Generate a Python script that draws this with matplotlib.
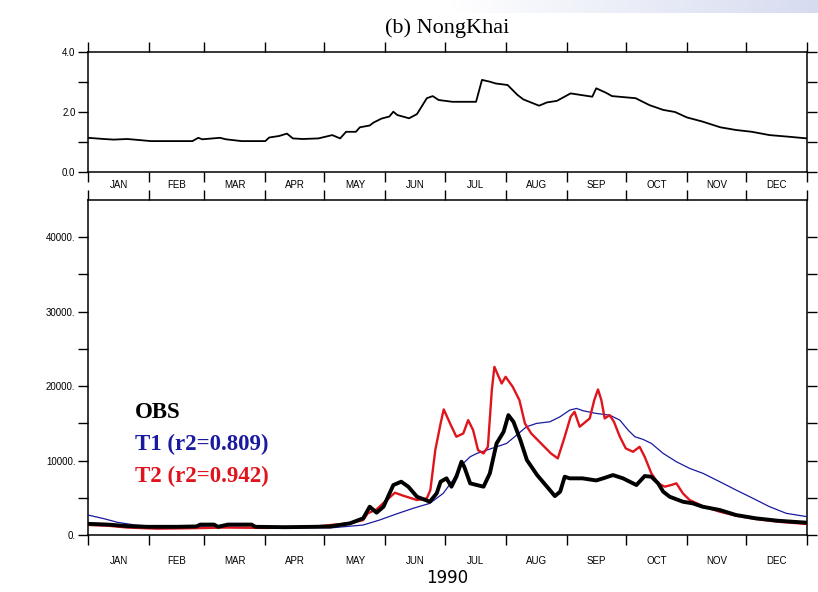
"""NongKhai 1990: уровень воды (верх) и расход OBS / T1 / T2 (низ)."""

import numpy as np
import matplotlib
matplotlib.use("Agg")
import matplotlib.pyplot as plt

# границы месяцев (день года) и подписи
month_edges = [0, 31, 59, 90, 120, 151, 181, 212, 243, 273, 304, 334, 365]
month_names = ["JAN", "FEB", "MAR", "APR", "MAY", "JUN",
               "JUL", "AUG", "SEP", "OCT", "NOV", "DEC"]

# верхняя панель
top_day = [0, 8, 13, 20, 32, 53, 56, 58, 67, 70, 78, 90, 92, 97, 101, 104, 109,
           117, 124, 128, 131, 136, 138, 143, 145, 149, 153, 155, 157, 163, 167,
           172, 175, 178, 185, 197, 200, 204, 207, 213, 218, 221, 229, 233, 238,
           245, 256, 258, 263, 266, 278, 285, 292, 298, 304, 312, 321, 329, 337,
           346, 355, 365]
top_val = [1.14, 1.10, 1.08, 1.10, 1.03, 1.03, 1.14, 1.09, 1.14, 1.09, 1.03, 1.03,
           1.15, 1.20, 1.28, 1.12, 1.10, 1.12, 1.23, 1.12, 1.34, 1.34, 1.49, 1.55,
           1.65, 1.78, 1.85, 2.01, 1.90, 1.79, 1.93, 2.46, 2.53, 2.40, 2.34, 2.34,
           3.07, 3.01, 2.95, 2.90, 2.57, 2.42, 2.21, 2.32, 2.37, 2.62, 2.51, 2.79,
           2.64, 2.53, 2.46, 2.23, 2.07, 2.00, 1.82, 1.68, 1.49, 1.40, 1.34, 1.23,
           1.18, 1.12]

# нижняя панель
obs_day = [0, 10, 20, 30, 45, 55, 57, 64, 66, 71, 83, 85, 100, 115, 123, 133,
           139.7, 143, 146.5, 150, 155, 159, 162.6, 167, 173.5, 177, 179, 182,
           184.5, 187, 189.6, 191, 194, 197.4, 200.8, 204, 207.4, 211, 213.4, 216,
           219.5, 222.8, 228, 233, 237, 239.7, 242, 244.5, 251, 258, 261.5, 266.5,
           271.6, 278.4, 282.6, 286, 289.4, 292, 295.3, 302, 307, 312, 320.7, 329,
           339, 350, 365]
obs_val = [1500, 1400, 1200, 1100, 1100, 1150, 1400, 1400, 1100, 1400, 1400, 1100,
           1050, 1100, 1150, 1570, 2240, 3800, 3000, 3800, 6710, 7160, 6490, 5140,
           4470, 5590, 7160, 7610, 6490, 7830, 9840, 9170, 6940, 6710, 6490, 8280,
           12300, 13870, 16100, 15200, 12750, 10070, 8050, 6490, 5230, 5820, 7830,
           7610, 7610, 7330, 7610, 8050, 7610, 6710, 7920, 7830, 6940, 5820, 5140,
           4470, 4250, 3800, 3360, 2680, 2240, 1920, 1650]

t1_day = [0, 8, 15, 25, 40, 60, 90, 110, 123, 139.7, 148, 156.5, 165, 173.5,
          180.3, 185.3, 189.6, 194, 197.4, 202.4, 207.4, 212.5, 217.6, 222.6,
          227.7, 234.5, 239.6, 244.6, 248, 251.3, 258, 264.8, 270, 274.2, 277.6,
          281.8, 286, 292, 298.7, 305.4, 312.2, 320.7, 329, 337.6, 346, 354.5, 365]
t1_val = [2680, 2200, 1700, 1300, 1150, 1100, 1000, 1000, 950, 1340, 2010, 2820,
          3580, 4250, 5590, 7380, 9390, 10510, 10960, 11400, 11850, 12300, 13420,
          14540, 14990, 15210, 15880, 16780, 17000, 16690, 16330, 16100, 15430,
          14090, 13200, 12840, 12300, 10960, 9840, 8950, 8280, 7160, 6040, 4920,
          3800, 2910, 2460]

t2_day = [0, 10, 20, 35, 50, 70, 90, 105, 115, 123, 133, 139.7, 142, 146.5,
          150.7, 155.8, 160, 167, 172, 173.8, 176.3, 179, 180.6, 183.8, 187,
          190.5, 193, 195.5, 198, 200.8, 203, 205, 206.3, 208.5, 210, 212, 215.6,
          219, 221.8, 225, 230, 235, 238.5, 242, 245, 247, 249.6, 254.7, 257,
          258.9, 260.6, 262.3, 264.8, 267, 270, 273, 276.7, 280, 282.6, 286,
          289.4, 292.8, 296, 298.7, 302, 305.4, 312, 320.7, 329, 339, 350, 365]
t2_val = [1350, 1250, 1000, 850, 900, 1000, 950, 1000, 1100, 1340, 1570, 2010,
          2910, 3440, 4470, 5680, 5280, 4700, 4920, 6040, 11400, 14990, 16870,
          14990, 13200, 13640, 15430, 14090, 11400, 10960, 11850, 19460, 22590,
          21250, 20350, 21250, 19910, 18120, 14990, 13640, 12300, 10960, 10290,
          13200, 15880, 16550, 14540, 15660, 18120, 19550, 18120, 15660, 16100,
          15210, 13200, 11630, 11180, 11850, 10510, 8280, 6940, 6490, 6710, 6940,
          5590, 4700, 3890, 3130, 2600, 2150, 1790, 1480]

labels = ["OBS", "T1 (r2=0.809)", "T2 (r2=0.942)"]
colors = ["black", "#1a1aa0", "#e0141c"]

W, H = 818, 592
fig = plt.figure(figsize=(W / 100, H / 100), dpi=100)

# светлая полоса фона сверху (как у слайда): белый -> бледно-голубой
band = fig.add_axes([0, 1 - 13 / H, 1, 13 / H], zorder=-5)
t = np.clip((np.linspace(0, 1, 256) - 0.55) / 0.45, 0, 1)[None, :, None]
rgb = (1 - t) * np.array([1.0, 1.0, 1.0]) + t * np.array([0.84, 0.86, 0.94])
band.imshow(np.repeat(rgb, 2, axis=0), aspect="auto", extent=[0, 1, 0, 1])
band.axis("off")

mid = [(a + b) / 2 for a, b in zip(month_edges[:-1], month_edges[1:])]
tick_font = dict(family="Liberation Sans", size=7)


def style_axis(ax, label_pad):
    ax.set_xlim(0, 365)
    ax.set_xticks(month_edges)
    ax.set_xticklabels([])
    ax.set_xticks(mid, minor=True)
    ax.set_xticklabels(month_names, minor=True, **tick_font)
    ax.tick_params(axis="x", which="major", direction="out", length=7, width=1,
                   top=True, bottom=True)
    ax.tick_params(axis="x", which="minor", length=0, pad=label_pad)
    ax.tick_params(axis="y", which="major", direction="out", length=7, width=1,
                   left=True, right=True, pad=2)
    for s in ax.spines.values():
        s.set_linewidth(1.1)


# верх
ax1 = fig.add_axes([88 / W, 1 - 172 / H, 719 / W, 120 / H])
ax1.plot(top_day, top_val, color="black", lw=1.3)
ax1.set_ylim(0, 4)
ax1.set_yticks([0, 1, 2, 3, 4])
ax1.set_yticklabels(["0.0", "", "2.0", "", "4.0"], **tick_font)
style_axis(ax1, 6)
ax1.set_title("(b) NongKhai", family="Liberation Serif", size=16, pad=14)

# низ
ax2 = fig.add_axes([88 / W, 1 - 535 / H, 719 / W, 335 / H])
ax2.plot(t1_day, t1_val, color=colors[1], lw=0.9, zorder=3)
ax2.plot(t2_day, t2_val, color=colors[2], lw=1.7, zorder=4)
ax2.plot(obs_day, obs_val, color=colors[0], lw=2.8, zorder=5)
ax2.set_ylim(0, 45000)
yt = list(range(0, 45000, 5000))
ax2.set_yticks(yt)
ax2.set_yticklabels([f"{v}." if v % 10000 == 0 else "" for v in yt], **tick_font)
style_axis(ax2, 15)
ax2.set_xlabel("1990", family="DejaVu Sans", size=12, labelpad=2)

for i, (txt, c) in enumerate(zip(labels, colors)):
    ax2.text(135 / W, 1 - (412 + 32 * i) / H, txt, transform=fig.transFigure,
             family="Liberation Serif", weight="bold", size=16.5, color=c,
             va="center", ha="left")

fig.savefig("out.png", dpi=100)
